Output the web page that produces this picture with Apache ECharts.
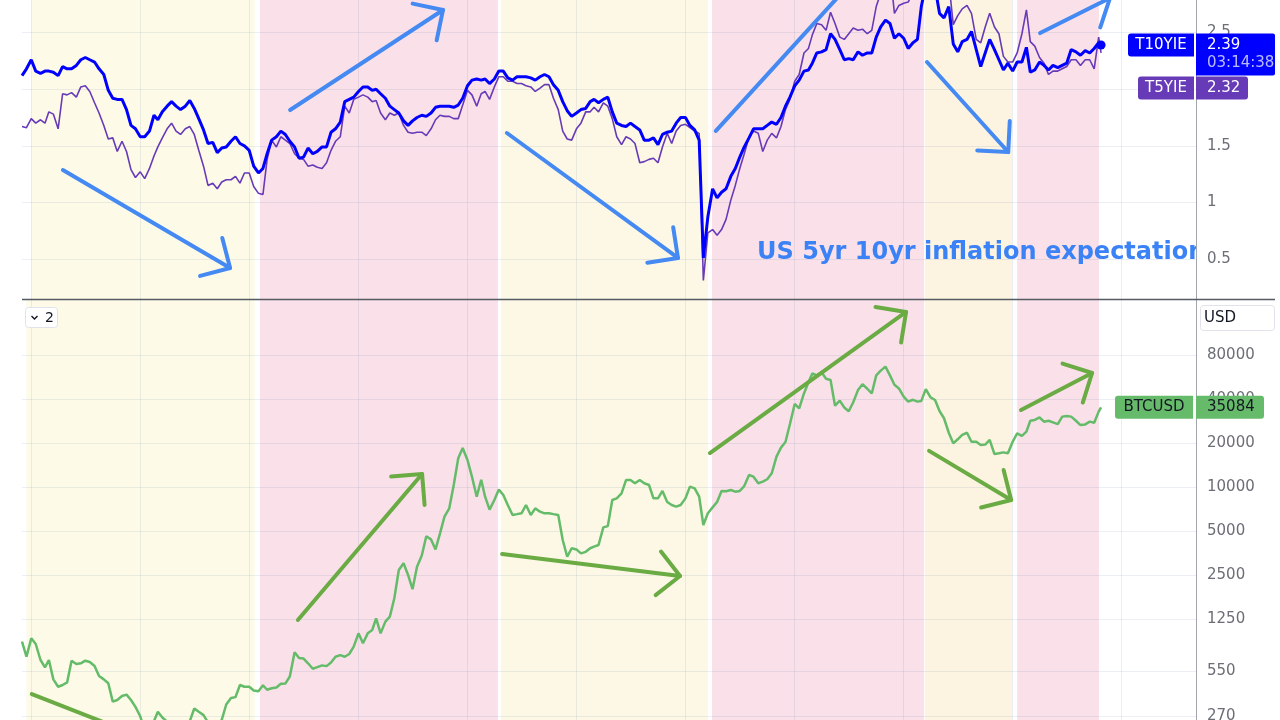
<!DOCTYPE html>
<html><head><meta charset="utf-8">
<script src="https://cdn.jsdelivr.net/npm/echarts@6/dist/echarts.min.js"></script>
<style>html,body{margin:0;padding:0;background:#fff;}#c{width:1280px;height:720px;}</style>
</head><body><div id="c"></div>
<script>
// ---- data: semi-monthly samples (1st and 16th of each month) starting Dec 2013 ----
const sampleStart = [2013, 11]; // year, 0-based month
const lastDate = '2023-10-24';
const t10yie = [2.12,2.18,
2.26,2.16,2.14,2.16,2.16,2.15,2.12,2.20,2.18,2.18,2.21,2.26,2.28,2.26,2.24,2.18,2.13,1.99,1.92,1.91,1.91,1.82,1.68,1.65,
1.58,1.58,1.63,1.77,1.73,1.80,1.85,1.89,1.85,1.82,1.85,1.90,1.83,1.74,1.64,1.52,1.53,1.44,1.48,1.49,1.54,1.58,1.52,1.50,
1.46,1.32,1.26,1.30,1.43,1.55,1.58,1.63,1.60,1.54,1.49,1.39,1.40,1.48,1.43,1.45,1.49,1.49,1.62,1.65,1.71,1.89,1.91,1.93,
1.98,2.02,2.02,1.99,2.00,1.96,1.92,1.85,1.82,1.79,1.72,1.68,1.72,1.75,1.77,1.76,1.79,1.84,1.85,1.85,1.85,1.84,1.86,1.92,
2.03,2.08,2.09,2.08,2.09,2.05,2.09,2.16,2.16,2.10,2.08,2.11,2.11,2.11,2.10,2.08,2.11,2.13,2.11,2.04,1.99,1.89,1.81,1.76,
1.79,1.82,1.83,1.89,1.91,1.88,1.91,1.93,1.80,1.70,1.68,1.67,1.70,1.67,1.64,1.55,1.55,1.57,1.51,1.60,1.62,1.63,1.70,1.75,
1.75,1.68,1.64,1.55,0.51,0.87,1.12,1.04,1.09,1.12,1.23,1.30,1.40,1.49,1.57,1.65,1.65,1.65,1.68,1.71,1.69,1.75,1.85,1.93,
2.03,2.08,2.16,2.17,2.23,2.32,2.33,2.35,2.49,2.44,2.35,2.26,2.27,2.26,2.33,2.30,2.32,2.32,2.46,2.55,2.61,2.58,2.45,2.49,
2.45,2.36,2.41,2.44,2.73,2.92,2.98,2.90,2.67,2.63,2.73,2.40,2.33,2.42,2.44,2.51,2.35,2.20,2.32,2.44,2.35,2.26,2.17,2.23,
2.16,2.24,2.24,2.37,2.15,2.17,2.24,2.21,2.17,2.21,2.19,2.21,2.23,2.35,2.33,2.30,2.34,2.32,2.36,2.41];
const t5yie = [1.67,1.66,
1.74,1.70,1.73,1.70,1.80,1.78,1.65,1.96,1.95,1.97,1.93,2.02,2.03,1.98,1.88,1.79,1.68,1.56,1.57,1.45,1.54,1.45,1.29,1.22,
1.27,1.21,1.30,1.41,1.49,1.57,1.65,1.70,1.63,1.60,1.65,1.67,1.60,1.46,1.32,1.15,1.17,1.12,1.18,1.20,1.20,1.23,1.17,1.26,
1.26,1.14,1.08,1.07,1.38,1.55,1.49,1.58,1.55,1.52,1.43,1.39,1.38,1.32,1.33,1.31,1.30,1.35,1.46,1.54,1.58,1.85,1.79,1.91,
1.93,1.95,1.93,1.89,1.90,1.79,1.73,1.79,1.77,1.79,1.68,1.62,1.61,1.62,1.62,1.59,1.65,1.73,1.77,1.76,1.76,1.74,1.74,1.86,
1.99,1.95,1.85,1.96,1.98,1.91,2.02,2.11,2.11,2.07,2.07,2.05,2.05,2.03,2.02,1.98,2.01,2.04,2.04,1.92,1.82,1.63,1.56,1.55,
1.65,1.70,1.80,1.80,1.84,1.80,1.88,1.85,1.74,1.58,1.51,1.58,1.56,1.52,1.35,1.36,1.38,1.39,1.35,1.49,1.61,1.52,1.63,1.68,
1.69,1.66,1.63,1.61,0.31,0.73,0.76,0.71,0.76,0.85,1.02,1.15,1.30,1.43,1.58,1.63,1.61,1.45,1.55,1.61,1.57,1.67,1.82,1.91,
2.07,2.13,2.32,2.36,2.48,2.58,2.57,2.52,2.68,2.58,2.46,2.44,2.49,2.54,2.52,2.53,2.49,2.52,2.73,2.85,2.95,3.05,2.67,2.74,
2.76,2.77,2.85,2.90,3.10,3.40,3.40,3.30,3.00,2.90,2.95,2.57,2.65,2.71,2.74,2.67,2.44,2.41,2.55,2.67,2.55,2.49,2.29,2.24,
2.24,2.32,2.49,2.70,2.42,2.38,2.28,2.23,2.13,2.16,2.16,2.18,2.20,2.26,2.26,2.21,2.26,2.26,2.18,2.46];
const btcusd = [874,690,
922,843,655,584,655,483,430,442,460,648,615,622,648,635,596,509,483,454,340,349,372,380,349,313,
270,215,230,250,290,265,248,225,232,237,228,250,305,290,275,245,228,235,255,325,360,365,442,430,
430,405,400,440,410,420,425,450,452,505,740,675,670,622,571,585,602,595,630,690,708,690,720,808,
997,852,997,1051,1264,997,1199,1297,1732,2703,3008,2500,2000,2850,3400,4600,4380,3740,4819,6265,7143,10320,15700,18500,
15300,11770,8584,11200,8584,7000,8147,9600,8820,7533,6436,6520,6606,7533,6436,7143,6780,6606,6606,6520,6436,4338,3330,3810,
3740,3516,3600,3810,3906,4010,5290,5400,8147,8360,9050,11150,11150,10600,11150,10600,10320,8360,8360,9400,7900,7533,7339,7533,
8360,10050,9792,8584,5495,6606,7250,7900,9400,9350,9535,9292,9400,10150,12085,11770,10600,10870,11300,12400,16130,18600,20300,27000,
37000,34500,43660,52000,59880,58000,61000,55000,54000,36000,39000,35000,33000,38000,46000,50500,47000,43660,58000,62500,66650,58000,50000,47260,
41500,38370,39500,38370,38800,46700,41000,39380,33100,29530,23500,19890,21200,22720,23500,20400,20400,19370,19500,20980,16800,16990,17250,16990,
20400,23300,22400,23900,28400,28750,29900,27990,28400,27700,26900,30300,30600,30300,28400,26540,26800,27990,27500,32790];
const t10Last = 2.39, t5Last = 2.32, btcLast = 35084;
const t10Time = '03:14:38';

// ---- axes / decorations ----
const xStart = '2013-12-01', xEnd = '2024-09-06';
const inflTicks = [0.5, 1, 1.5, 2, 2.5];
const inflRange = [0.1466, 2.788];
const btcTicks = [80000, 40000, 20000, 10000, 5000, 2500, 1250, 550, 270];
const btcRange = [254.6, 190250];
const yearLines = ['2014-01-01','2015-01-01','2016-01-01','2017-01-01','2018-01-01','2019-01-01','2020-01-01','2021-01-01','2022-01-01','2023-01-01','2024-01-01'];
const bandsTop = [['2014-01-01','2016-01-19','y1'],['2016-02-06','2018-04-13','p'],['2018-04-23','2020-03-17','y2'],['2020-03-30','2022-03-10','p'],['2022-03-13','2022-12-30','y3'],['2023-01-16','2023-10-17','p']];
const bandsBottom = [['2013-12-16','2016-01-19','y1'],['2016-02-06','2018-04-13','p'],['2018-04-23','2020-03-17','y2'],['2020-03-30','2022-03-10','p'],['2022-03-13','2022-12-30','y3'],['2023-01-16','2023-10-17','p']];
const bandColors = {y1:'#fdfbe8', y2:'#fdf8e5', y3:'#fcf4e1', p:'#fae1e9'};
// annotation arrows: [fromDate, fromValue, toDate, toValue]
const blueArrows = [
  ['2014-04-17',1.286,'2015-10-29',0.420],
  ['2016-05-17',1.816,'2017-10-11',2.700],
  ['2018-05-13',1.613,'2019-12-07',0.509],
  ['2020-04-12',1.631,'2021-09-10',3.124],
  ['2022-03-20',2.240,'2022-12-17',1.445],
  ['2023-04-03',2.496,'2023-11-23',2.806]
];
const greenArrows = [
  ['2014-01-03',383,'2015-07-20',135.6],
  ['2016-06-12',1231,'2017-08-02',12270],
  ['2018-04-27',3480,'2019-12-14',2460],
  ['2020-03-23',17080,'2022-01-09',157500],
  ['2022-03-27',17660,'2022-12-27',8150],
  ['2023-01-29',33640,'2023-09-24',60240]
];
const noteText = 'US 5yr 10yr inflation expectations';
const notePos = ['2020-08-28', 0.553];

function ts(s){ const p = s.split('-').map(Number); return new Date(p[0], p[1]-1, p[2]).getTime(); }
function sampleTs(i){ const m = sampleStart[1] + Math.floor(i/2); return new Date(sampleStart[0] + Math.floor(m/12), m % 12, i % 2 ? 16 : 1).getTime(); }
function toSeries(arr, last){ return arr.map((v,i)=>[sampleTs(i), v]).concat([[ts(lastDate), last]]); }

const gridColor = 'rgba(100,125,170,0.13)';
const labelFont = '"DejaVu Sans", sans-serif';

function gridMarkLine(ticks, fmt){
  return {
    silent: true, symbol: 'none', z: 1, animation: false,
    data: yearLines.map(d => ({xAxis: ts(d), label:{show:false}, lineStyle:{color:gridColor, width:1, type:'solid'}}))
      .concat(ticks.map(v => ({yAxis: v, lineStyle:{color:gridColor, width:1, type:'solid'},
        label:{show:true, position:'end', distance:11, formatter: fmt(v), color:'#6b6e76', fontSize:15, fontFamily:labelFont}})))
  };
}
function bandArea(bands){
  return { silent:true, z:0, animation:false,
    data: bands.map(b => [{xAxis: ts(b[0]), itemStyle:{color: bandColors[b[2]]}}, {xAxis: ts(b[1])}]) };
}
function arrowSeries(list, color, xi){
  return {
    type:'custom', xAxisIndex:xi, yAxisIndex:xi, clip:true, z:4, silent:true, animation:false,
    encode:{x:[0,2], y:[1,3]},
    data: list.map(a => [ts(a[0]), a[1], ts(a[2]), a[3]]),
    renderItem: function(params, api){
      const p0 = api.coord([api.value(0), api.value(1)]);
      const p1 = api.coord([api.value(2), api.value(3)]);
      const ang = Math.atan2(p0[1]-p1[1], p0[0]-p1[0]);
      const L = 31, A = Math.PI/4;
      const h1 = [p1[0]+L*Math.cos(ang+A), p1[1]+L*Math.sin(ang+A)];
      const h2 = [p1[0]+L*Math.cos(ang-A), p1[1]+L*Math.sin(ang-A)];
      const st = {stroke:color, lineWidth:4, fill:null, lineCap:'round', lineJoin:'round'};
      return {type:'group', children:[
        {type:'polyline', shape:{points:[p0,p1]}, style:st},
        {type:'polyline', shape:{points:[h1,p1,h2]}, style:st}
      ]};
    }
  };
}

const chart = echarts.init(document.getElementById('c'), null, {renderer:'canvas'});
const option = {
  animation:false,
  backgroundColor:'#ffffff',
  grid:[
    {left:22, right:84, top:0, height:299, containLabel:false},
    {left:22, right:84, top:300, height:420, containLabel:false}
  ],
  xAxis:[
    {type:'time', gridIndex:0, min:ts(xStart), max:ts(xEnd), axisLabel:{show:false}, axisTick:{show:false}, axisLine:{show:false}, splitLine:{show:false}},
    {type:'time', gridIndex:1, min:ts(xStart), max:ts(xEnd), axisLabel:{show:false}, axisTick:{show:false}, axisLine:{show:false}, splitLine:{show:false}}
  ],
  yAxis:[
    {type:'value', gridIndex:0, position:'right', min:inflRange[0], max:inflRange[1], axisLabel:{show:false}, axisTick:{show:false}, splitLine:{show:false},
     axisLine:{show:true, lineStyle:{color:'#a3a6ad', width:1}}},
    {type:'log', gridIndex:1, position:'right', min:btcRange[0], max:btcRange[1], axisLabel:{show:false}, axisTick:{show:false}, splitLine:{show:false}, minorSplitLine:{show:false},
     axisLine:{show:true, lineStyle:{color:'#a3a6ad', width:1}}}
  ],
  series:[
    {type:'line', name:'bandsTop', xAxisIndex:0, yAxisIndex:0, data:[], z:0, markArea: bandArea(bandsTop)},
    {type:'line', name:'gridTop', xAxisIndex:0, yAxisIndex:0, data:[], z:1, markLine: gridMarkLine(inflTicks, v => String(v))},
    {type:'line', name:'bandsBottom', xAxisIndex:1, yAxisIndex:1, data:[], z:0, markArea: bandArea(bandsBottom)},
    {type:'line', name:'gridBottom', xAxisIndex:1, yAxisIndex:1, data:[], z:1, markLine: gridMarkLine(btcTicks, v => String(v))},
    {type:'line', name:'T5YIE', xAxisIndex:0, yAxisIndex:0, data: toSeries(t5yie, t5Last), showSymbol:false, symbol:'none', z:3,
     lineStyle:{color:'#673ab7', width:1.6}},
    {type:'line', name:'T10YIE', xAxisIndex:0, yAxisIndex:0, data: toSeries(t10yie, t10Last), showSymbol:false, symbol:'none', z:3,
     lineStyle:{color:'#0000ff', width:3},
     markPoint:{silent:true, z:6, symbol:'circle', symbolSize:9, itemStyle:{color:'#0000ff'}, label:{show:false}, data:[{coord:[ts(lastDate), t10Last]}]}},
    {type:'line', name:'BTCUSD', xAxisIndex:1, yAxisIndex:1, data: toSeries(btcusd, btcLast), showSymbol:false, symbol:'none', z:3,
     lineStyle:{color:'#64bb69', width:2.5}},
    arrowSeries(blueArrows, '#4589f2', 0),
    arrowSeries(greenArrows, '#6aab44', 1),
    {type:'custom', xAxisIndex:0, yAxisIndex:0, clip:true, z:5, silent:true, encode:{x:0, y:1},
     data:[[ts(notePos[0]), notePos[1]]],
     renderItem:function(params, api){
       const c = api.coord([api.value(0), api.value(1)]);
       return {type:'text', x:c[0], y:c[1], style:{text:noteText, fill:'#3b82f6', font:'bold 24px "DejaVu Sans"', align:'left', verticalAlign:'middle'}};
     }}
  ]
};
chart.setOption(option);

// price labels on the right scale, positioned from the axes
const yT10 = chart.convertToPixel({yAxisIndex:0}, t10Last);
const yBtc = chart.convertToPixel({yAxisIndex:1}, btcLast);
const f15 = '15px "DejaVu Sans"';
function box(x, y, w, h, color, r){ return {type:'rect', z:100, shape:{x:x, y:y, width:w, height:h, r:r}, style:{fill:color}}; }
function txt(x, y, s, color, align, font){ return {type:'text', z:101, x:x, y:y, style:{text:s, fill:color, font:font||f15, align:align||'left', verticalAlign:'middle'}}; }
const t10Top = yT10 - 11.5;
const t5Top = t10Top + 43;
const graphics = [
  // pane separator
  {type:'line', z:90, shape:{x1:22, y1:299.5, x2:1275, y2:299.5}, style:{stroke:'#555a63', lineWidth:1.5}},
  // T10YIE
  box(1128, t10Top, 66, 23, '#0000ff', [3,0,0,3]),
  txt(1161, t10Top+11.5, 'T10YIE', '#ffffff', 'center'),
  box(1196, t10Top, 79, 42, '#0000ff', [0,2,2,0]),
  txt(1207, t10Top+11.5, String(t10Last), '#ffffff'),
  txt(1207, t10Top+30, t10Time, 'rgba(255,255,255,0.72)'),
  // T5YIE
  box(1138, t5Top, 56, 23, '#673ab7', [3,0,0,3]),
  txt(1166, t5Top+11.5, 'T5YIE', '#ffffff', 'center'),
  box(1196, t5Top, 52, 23, '#673ab7', [0,3,3,0]),
  txt(1207, t5Top+11.5, String(t5Last), '#ffffff'),
  // BTCUSD
  box(1115, yBtc-11.5, 78, 23, '#66bb6a', [3,0,0,3]),
  txt(1154, yBtc, 'BTCUSD', '#131722', 'center'),
  box(1196, yBtc-11.5, 68, 23, '#66bb6a', [0,3,3,0]),
  txt(1207, yBtc, String(btcLast), '#131722'),
  // USD currency box
  {type:'rect', z:100, shape:{x:1200.5, y:305.5, width:74, height:25, r:3}, style:{fill:'#ffffff', stroke:'#e0e3eb', lineWidth:1}},
  txt(1204, 318, 'USD', '#131722'),
  // pane collapse button
  {type:'rect', z:100, shape:{x:25.5, y:307.5, width:32, height:20, r:3}, style:{fill:'#ffffff', stroke:'#e0e3eb', lineWidth:1}},
  {type:'polyline', z:101, shape:{points:[[31.5,316],[34.5,319],[37.5,316]]}, style:{stroke:'#131722', lineWidth:1.4, fill:null}},
  txt(45, 318, '2', '#131722', 'left', '14px "DejaVu Sans"')
];
chart.setOption({graphic: graphics});
</script>
</body></html>
